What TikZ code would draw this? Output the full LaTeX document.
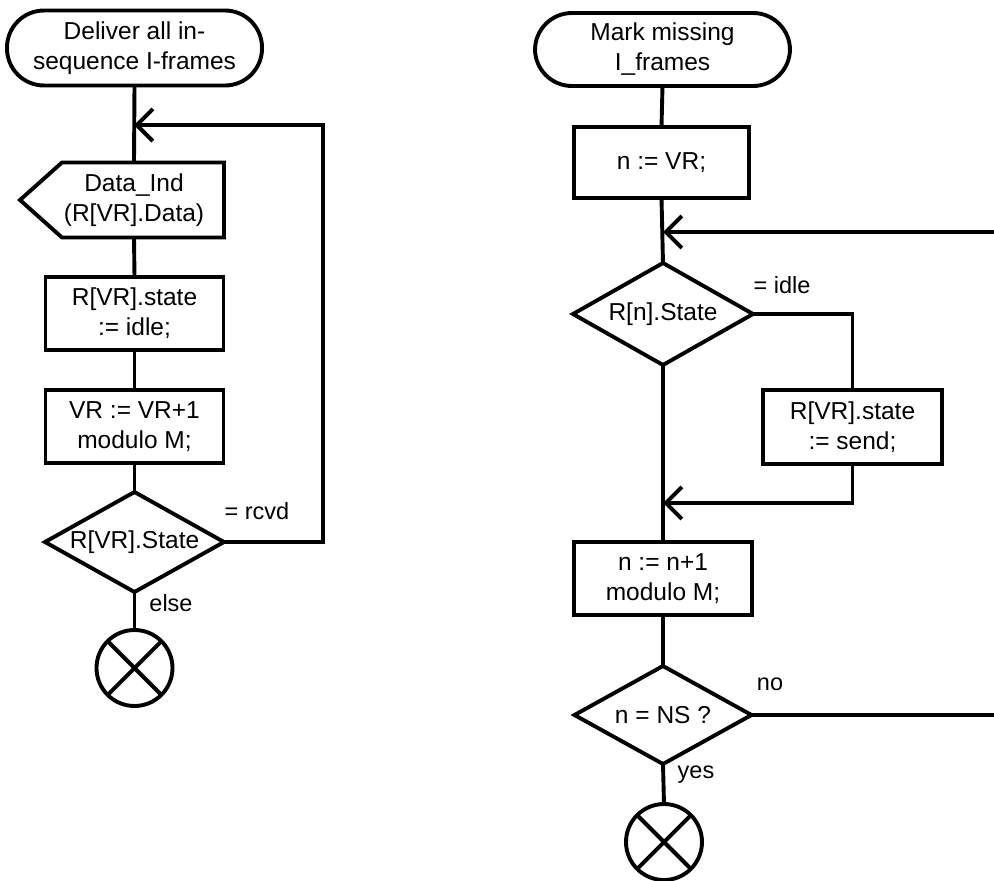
\documentclass[tikz,border=0pt]{standalone}
\usepackage{fontspec}
\setmainfont{Liberation Sans}
\usetikzlibrary{shapes.geometric,arrows.meta,calc}
\begin{document}
\begin{tikzpicture}[x=1pt,y=-1pt,
  every node/.style={font=\fontsize{24.5}{30}\selectfont, align=center, inner sep=0pt, outer sep=0pt},
  ln/.style={line width=3.9pt, line join=miter},
  term/.style={ln, draw, rectangle, rounded corners=37pt, minimum width=255pt, minimum height=75pt},
  task/.style={ln, draw, rectangle, minimum width=178pt, minimum height=73pt},
  dec/.style={ln, draw, diamond, aspect=1.8, minimum width=179pt, minimum height=100pt},
  stopc/.style={ln, draw, circle, minimum size=76pt},
  lbl/.style={font=\fontsize{23.5}{28}\selectfont},
  arr/.style={ln, -{Straight Barb[length=16pt,width=32pt]}}
]
\useasboundingbox (0,0) rectangle (994,881);

% ---------------- left flowchart ----------------
\node[term] (s1) at (134.5,48) {Deliver all in-\\sequence I-frames};
\coordinate (j1) at (134,125);
\node[minimum width=180pt, minimum height=75pt] (d0) at (134,200) {Data\_Ind\\(R[VR].Data)};
\draw[ln] (d0.center) ++(90,-37.5) -- ++(-162,0) -- ++(-42,37.5) -- ++(42,37.5) -- ++(162,0) -- cycle;
\node[task] (b2) at (134.5,313.5) {R[VR].state\\:= idle;};
\node[task] (b3) at (134.5,426.5) {VR := VR+1\\modulo M;};
\node[dec] (q1) at (134.5,542) {R[VR].State};
\node[stopc] (e1) at (134.5,668) {};
\draw[ln] (e1.north west) -- (e1.south east) (e1.north east) -- (e1.south west);
\coordinate (r1) at (323,125);

\draw[ln] (s1.south) -- (d0.north);
\draw[ln] (d0.south) -- (b2.north);
\draw[ln] (b2.south) -- (b3.north);
\draw[ln] (b3.south) -- (q1.north);
\draw[ln] (q1.south) -- (e1.north);
\draw[arr] (q1.east) -| (r1) -- (j1);
\node[lbl] (l1) at (257,511) {= rcvd};
\node[lbl] (l2) at (171,603) {else};

% ---------------- right flowchart ----------------
\node[term, minimum height=73pt] (s2) at (662.5,49.5) {Mark missing\\I\_frames};
\node[task, minimum width=175pt, minimum height=71pt] (b4) at (661.5,162.5) {n := VR;};
\coordinate (j2) at (663,232);
\node[dec, minimum width=180pt, minimum height=102pt] (q2) at (663,314) {R[n].State};
\node[task, minimum width=179pt, minimum height=74pt] (b5) at (852.5,427) {R[VR].state\\:= send;};
\coordinate (j3) at (663,503);
\node[task] (b6) at (663,578.5) {n := n+1\\modulo M;};
\node[dec, minimum width=177pt, minimum height=98pt] (q3) at (663,715) {n = NS ?};
\node[stopc] (e2) at (664,842) {};
\draw[ln] (e2.north west) -- (e2.south east) (e2.north east) -- (e2.south west);
\coordinate (r2) at (1001,715);

\draw[ln] (s2.south) -- (b4.north);
\draw[ln] (b4.south) -- (q2.north);
\draw[ln] (q2.east) -| (b5.north);
\draw[arr] (b5.south) |- (j3);
\draw[ln] (q2.south) -- (b6.north);
\draw[ln] (b6.south) -- (q3.north);
\draw[ln] (q3.south) -- (e2.north);
\draw[arr] (q3.east) -- (r2) |- (j2);
\node[lbl] (l3) at (782,285) {= idle};
\node[lbl] (l4) at (770,684) {no};
\node[lbl] (l5) at (696,775) {yes};
\end{tikzpicture}
\end{document}
